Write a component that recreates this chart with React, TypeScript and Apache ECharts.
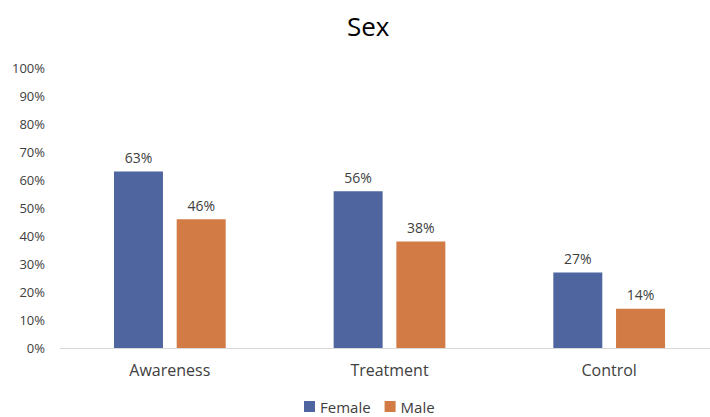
import React, { useEffect, useRef } from "react";
import * as echarts from "echarts";

const categories = ["Awareness", "Treatment", "Control"];
const femaleValues = [63, 56, 27];
const maleValues = [46, 38, 14];
const seriesNames = ["Female", "Male"];

export default function App() {
  const ref = useRef<HTMLDivElement>(null);
  useEffect(() => {
    if (!ref.current) return;
    const chart = echarts.init(ref.current, undefined, { renderer: "svg" });
    const font = "'Open Sans', 'Liberation Sans', sans-serif";
    const label = {
      show: true,
      position: "top",
      distance: 7,
      formatter: (p: any) => p.value + "%",
      color: "#404040",
      fontSize: 14,
      fontFamily: font,
    };
    chart.setOption({
      animation: false,
      title: {
        text: "Sex",
        left: 342,
        top: 8,
        textStyle: { fontSize: 26, fontWeight: "normal", color: "#000", fontFamily: font },
      },
      legend: {
        bottom: -2,
        left: 299,
        itemWidth: 11,
        itemHeight: 11,
        itemGap: 14,
        icon: "rect",
        textStyle: { fontSize: 15, color: "#404040", fontFamily: font },
        data: seriesNames,
      },
      grid: {
        left: 60,
        width: 659,
        top: 68,
        bottom: 69,
        containLabel: false,
        outerBoundsMode: "none",
      },
      xAxis: {
        type: "category",
        data: categories,
        axisLine: { lineStyle: { color: "#d9d9d9", width: 1 } },
        axisTick: { show: false },
        axisLabel: { color: "#404040", fontSize: 16, margin: 14, fontFamily: font },
      },
      yAxis: {
        type: "value",
        min: 0,
        max: 100,
        interval: 10,
        axisLine: { show: false },
        axisTick: { show: false },
        splitLine: { show: false },
        axisLabel: {
          formatter: "{value}%",
          color: "#404040",
          fontSize: 13,
          margin: 15,
          fontFamily: font,
        },
      },
      series: [
        {
          name: seriesNames[0],
          type: "bar",
          data: femaleValues,
          barWidth: 49,
          barGap: "28%",
          itemStyle: { color: "#4e659f" },
          label,
        },
        {
          name: seriesNames[1],
          type: "bar",
          data: maleValues,
          barWidth: 49,
          barGap: "28%",
          itemStyle: { color: "#d27b45" },
          label,
        },
      ],
    });
    return () => chart.dispose();
  }, []);
  return (
    <div
      ref={ref}
      style={{ position: "absolute", left: 0, top: 0, width: 710, height: 417 }}
    />
  );
}
